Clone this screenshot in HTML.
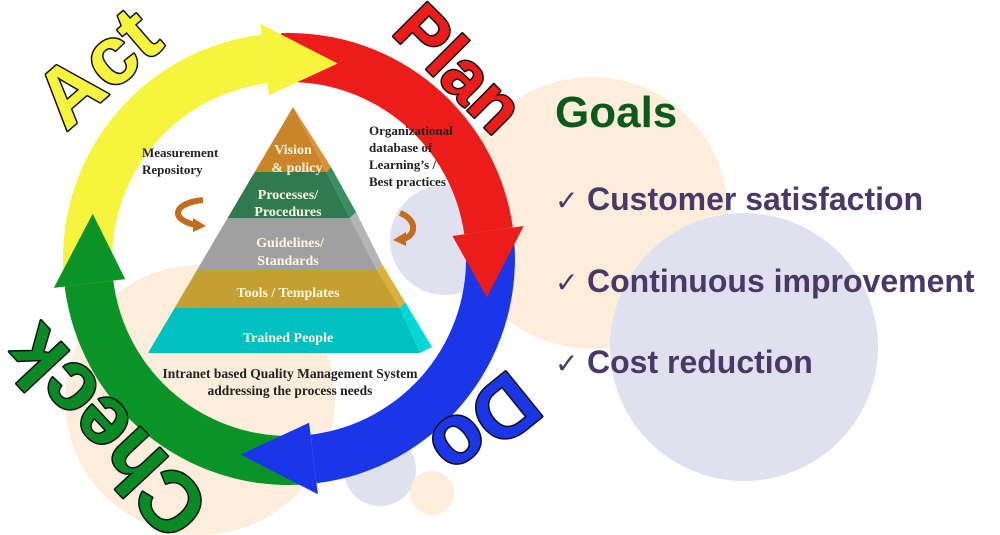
<!DOCTYPE html>
<html><head><meta charset="utf-8"><style>
html,body{margin:0;padding:0;background:#fff;}
svg{display:block;}
</style></head><body>
<svg width="1000" height="535" viewBox="0 0 1000 535" xmlns="http://www.w3.org/2000/svg" font-family="Liberation Sans, sans-serif">
<!-- background circles -->
<circle cx="592" cy="213" r="136" fill="#fdeedb"/>
<circle cx="744" cy="347" r="134" fill="#e0e1ee"/>
<circle cx="200" cy="400" r="135" fill="#fdeedb"/>
<circle cx="445" cy="240" r="55" fill="#e0e1ee"/>
<circle cx="380" cy="470" r="36" fill="#e0e1ee"/>
<circle cx="432" cy="493" r="22" fill="#fdeedb"/>

<!-- ring bodies -->
<path d="M66.4,298.2 A226,226 0 0 1 261.5,34.7 L267.4,83.3 A177,177 0 0 0 114.7,289.7 Z" fill="#f7f43e"/>
<path d="M281.1,33.1 A226,226 0 0 1 512.8,227.5 L464.3,234.4 A177,177 0 0 0 282.8,82.1 Z" fill="#ec1c1a"/>
<path d="M514.4,243.2 A226,226 0 0 1 316.5,483.3 L310.6,434.7 A177,177 0 0 0 465.6,246.6 Z" fill="#1a36e8"/>
<path d="M304.8,484.5 A226,226 0 0 1 64.7,286.5 L113.3,280.6 A177,177 0 0 0 301.4,435.6 Z" fill="#0a9428"/>
<!-- heads -->
<polygon points="260.1,23.8 337.7,63.5 268.9,95.2" fill="#f7f43e"/>
<polygon points="523.7,226.0 486.8,297.4 452.4,236.0" fill="#ec1c1a"/>
<polygon points="317.9,494.2 240.3,454.5 309.1,422.8" fill="#1a36e8"/>
<polygon points="53.8,287.9 92.7,213.7 125.2,279.1" fill="#0a9428"/>

<!-- pyramid -->
<polygon points="174.6,308 148,353 420,353 400,308" fill="#00c0c0"/>
<polygon points="400,308 405,302 432,347 420,353" fill="#00d8d8"/>
<polygon points="197,270 174.6,308 400,308 377,270" fill="#c4a032"/>
<polygon points="377,270 382,264 405,302 400,308" fill="#d8b23a"/>
<polygon points="227.6,218 197,270 377,270 350,218" fill="#a0a0a0"/>
<polygon points="350,218 356,212 382,264 377,270" fill="#b4b4b4"/>
<polygon points="254.7,172 227.6,218 350,218 326.5,172" fill="#2f7a50"/>
<polygon points="326.5,172 331,167 356,212 350,218" fill="#389060"/>
<polygon points="293,107 254.7,172 326.5,172" fill="#cc8428"/>
<polygon points="293,107 331,167 326.5,172" fill="#d89238"/>
<g font-family="Liberation Serif, serif" font-weight="bold" fill="#fdf6e0" text-anchor="middle" font-size="14">
<text x="293" y="154">Vision</text><text x="297" y="172">&amp; policy</text>
<text x="288" y="199">Processes/</text><text x="288" y="216">Procedures</text>
<text x="290" y="247">Guidelines/</text><text x="288" y="265">Standards</text>
<text x="288" y="297">Tools / Templates</text>
<text x="288" y="342">Trained People</text>
</g>
<g font-family="Liberation Serif, serif" font-weight="bold" fill="#222" font-size="13">
<text x="142" y="157">Measurement</text><text x="142" y="174">Repository</text>
<text x="369" y="135">Organizational</text><text x="369" y="152">database of</text><text x="369" y="169">Learning’s /</text><text x="369" y="186">Best practices</text>
<text x="290" y="378" text-anchor="middle" font-size="13.5">Intranet based Quality Management System</text>
<text x="290" y="395" text-anchor="middle" font-size="13.5">addressing the process needs</text>
</g>
<!-- curved small arrows -->
<path d="M203,200 C172,203 170,220 196,225" fill="none" stroke="#c46c1c" stroke-width="6"/>
<polygon points="193,218 206,226 193,232" fill="#c46c1c"/>
<path d="M400,213 C418,220 416,236 403,239" fill="none" stroke="#c46c1c" stroke-width="6"/>
<polygon points="406,232 393,240 406,246" fill="#c46c1c"/>

<!-- PDCA labels -->
<g font-weight="bold" stroke="#111" stroke-width="3" paint-order="stroke" stroke-linejoin="round">
<text transform="translate(66,132) rotate(-41)" fill="#f7f43e" font-size="82">Act</text>
<text transform="translate(390,33) rotate(45)" fill="#ec1c1a" font-size="70">Plan</text>
<text transform="translate(510,368) rotate(141)" fill="#1a36e8" font-size="84">Do</text>
<text transform="translate(213,505) rotate(227)" fill="#0a8a24" font-size="84">Check</text>
</g>

<!-- goals -->
<text x="555" y="127" font-size="44" font-weight="bold" fill="#0a5a1a">Goals</text>
<g font-size="32" font-weight="bold" fill="#4a3868">
<text x="555" y="210"><tspan font-size="28" font-family="DejaVu Sans, sans-serif">✓</tspan><tspan x="587">Customer satisfaction</tspan></text>
<text x="555" y="292"><tspan font-size="28" font-family="DejaVu Sans, sans-serif">✓</tspan><tspan x="587">Continuous improvement</tspan></text>
<text x="555" y="373"><tspan font-size="28" font-family="DejaVu Sans, sans-serif">✓</tspan><tspan x="587">Cost reduction</tspan></text>
</g>
</svg>
</body></html>
